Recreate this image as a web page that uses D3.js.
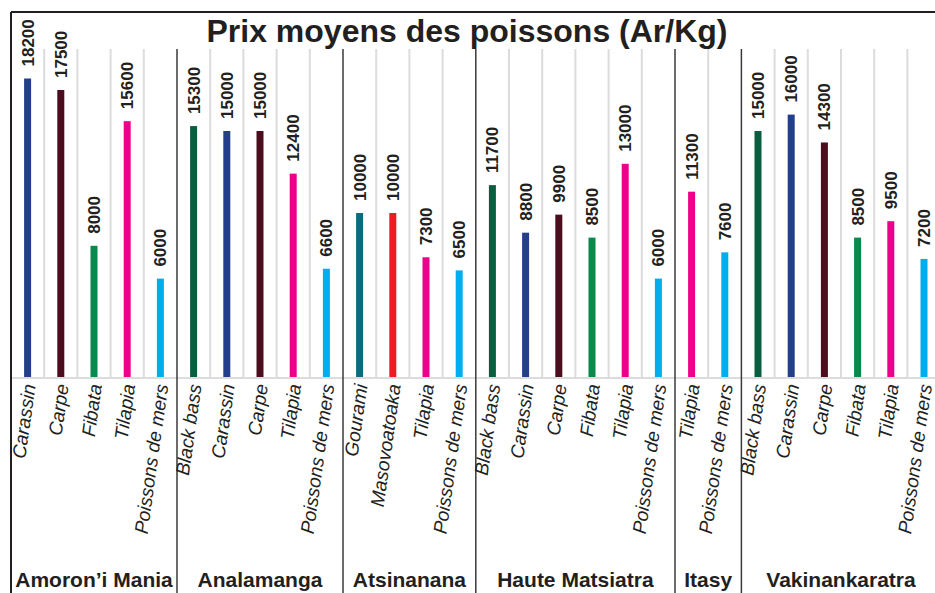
<!DOCTYPE html>
<html>
<head>
<meta charset="utf-8">
<script src="https://cdn.jsdelivr.net/npm/d3@7"></script>
<style>
  body { margin: 0; background: #fff; }
  svg { display: block; font-family: "Liberation Sans", Arial, sans-serif; }
</style>
</head>
<body>
<div id="chart"></div>
<script>
// régions (groupes) et nombre de barres par région
const regions = ['Amoron\u2019i Mania', 'Analamanga', 'Atsinanana', 'Haute Matsiatra', 'Itasy', 'Vakinankaratra'];
const regionSizes = [5, 5, 4, 6, 2, 6];

// une entrée par barre
const fish = [
  'Carassin', 'Carpe', 'Fibata', 'Tilapia', 'Poissons de mers',
  'Black bass', 'Carassin', 'Carpe', 'Tilapia', 'Poissons de mers',
  'Gourami', 'Masovoatoaka', 'Tilapia', 'Poissons de mers',
  'Black bass', 'Carassin', 'Carpe', 'Fibata', 'Tilapia', 'Poissons de mers',
  'Tilapia', 'Poissons de mers',
  'Black bass', 'Carassin', 'Carpe', 'Fibata', 'Tilapia', 'Poissons de mers'
];
const prices = [
  18200, 17500, 8000, 15600, 6000,
  15300, 15000, 15000, 12400, 6600,
  10000, 10000, 7300, 6500,
  11700, 8800, 9900, 8500, 13000, 6000,
  11300, 7600,
  15000, 16000, 14300, 8500, 9500, 7200
];

const fishColors = {
  'Carassin': '#233e8b',
  'Carpe': '#4a0e1f',
  'Fibata': '#078a4b',
  'Tilapia': '#ec008c',
  'Poissons de mers': '#00aeef',
  'Black bass': '#0b5d3f',
  'Gourami': '#0e6a80',
  'Masovoatoaka': '#ed1c24'
};

const width = 935, height = 593;
const left = 11, band = 33.2;
const ink = '#231f20';

const svg = d3.select('#chart').append('svg')
  .attr('width', width)
  .attr('height', height);

const x = d3.scaleBand()
  .domain(d3.range(fish.length))
  .range([left, left + band * fish.length])
  .paddingInner(0);

const y = d3.scaleLinear()
  .domain([0, 20000])
  .range([377, 49]);

// début de chaque groupe
const starts = [];
regionSizes.reduce((acc, n) => { starts.push(acc); return acc + n; }, 0);

// lignes de grille grises entre les barres
const gridIdx = d3.range(1, fish.length).filter(i => !starts.includes(i));
svg.selectAll('.grid')
  .data(gridIdx)
  .enter()
  .append('line')
  .attr('x1', i => x(i)).attr('x2', i => x(i))
  .attr('y1', y(20000)).attr('y2', y(0))
  .attr('stroke', '#dcdcdc')
  .attr('stroke-width', 2);

// ligne de base
svg.append('line')
  .attr('x1', left).attr('x2', width)
  .attr('y1', y(0) + 1).attr('y2', y(0) + 1)
  .attr('stroke', '#dcdcdc')
  .attr('stroke-width', 2);

// séparateurs de régions
svg.selectAll('.sep')
  .data(starts.slice(1))
  .enter()
  .append('line')
  .attr('x1', i => x(i)).attr('x2', i => x(i))
  .attr('y1', y(20000)).attr('y2', height)
  .attr('stroke', '#3a3a3a')
  .attr('stroke-width', 1.5);

// cadre gauche et haut
svg.append('line')
  .attr('x1', left).attr('x2', left)
  .attr('y1', 12).attr('y2', height)
  .attr('stroke', ink).attr('stroke-width', 2);
svg.append('line')
  .attr('x1', left).attr('x2', width)
  .attr('y1', 12).attr('y2', 12)
  .attr('stroke', ink).attr('stroke-width', 2);

// barres
const barW = 7;
svg.selectAll('.bar')
  .data(prices)
  .enter()
  .append('rect')
  .attr('x', (d, i) => x(i) + x.bandwidth() / 2 - barW / 2)
  .attr('y', d => y(d))
  .attr('width', barW)
  .attr('height', d => y(0) - y(d))
  .attr('fill', (d, i) => fishColors[fish[i]]);

// étiquettes de valeurs
svg.selectAll('.val')
  .data(prices)
  .enter()
  .append('text')
  .text(d => d)
  .attr('transform', (d, i) => `translate(${x(i) + x.bandwidth() / 2},${y(d) - 12}) rotate(-90)`)
  .attr('dy', '0.35em')
  .attr('fill', ink)
  .style('font-size', '17px')
  .style('font-weight', 'bold');

// noms des poissons
svg.selectAll('.cat')
  .data(fish)
  .enter()
  .append('text')
  .text(d => d)
  .attr('transform', (d, i) => `translate(${x(i) + x.bandwidth() / 2 + 8},385) rotate(-82)`)
  .attr('text-anchor', 'end')
  .attr('fill', ink)
  .style('font-size', '19px')
  .style('font-style', 'italic');

// noms des régions
svg.selectAll('.region')
  .data(regions)
  .enter()
  .append('text')
  .text(d => d)
  .attr('x', (d, k) => (x(starts[k]) + x(starts[k] + regionSizes[k] - 1) + x.bandwidth()) / 2)
  .attr('y', 587)
  .attr('text-anchor', 'middle')
  .attr('fill', ink)
  .style('font-size', '21px')
  .style('font-weight', 'bold');

// titre
svg.append('text')
  .text('Prix moyens des poissons (Ar/Kg)')
  .attr('x', 467)
  .attr('y', 42)
  .attr('text-anchor', 'middle')
  .attr('fill', ink)
  .style('font-size', '32px')
  .style('font-weight', 'bold');
</script>
</body>
</html>
